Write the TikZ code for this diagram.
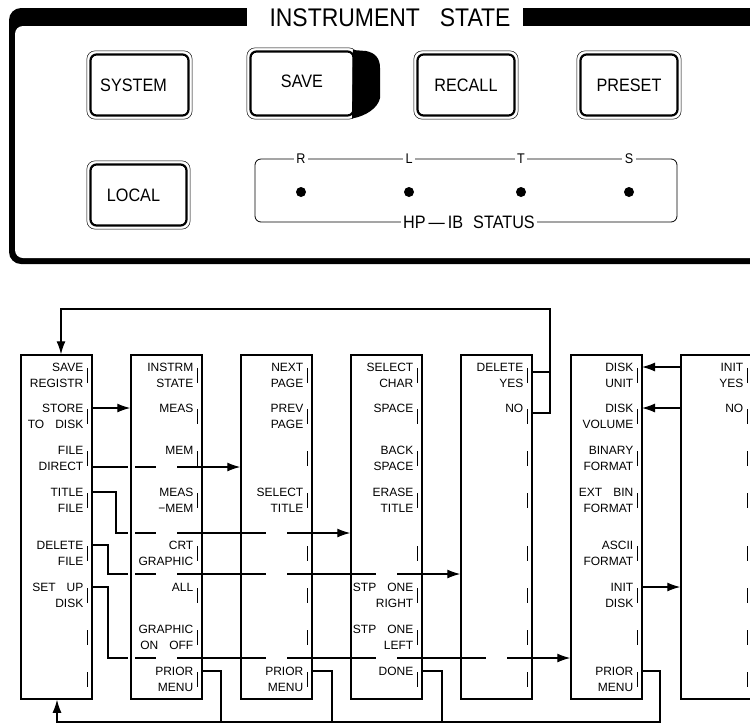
\documentclass[tikz,border=0pt]{standalone}
\usepackage{fontspec}
\setmainfont{Liberation Sans}
\newfontfamily\panelfont[FakeStretch=0.9]{Liberation Sans}
\usetikzlibrary{calc}
\usetikzlibrary{arrows.meta}
\pgfdeclarelayer{background}
\pgfsetlayers{background,main}
\newcommand*{\colsp}{110}
\newcommand*{\wsp}{\hspace{11pt}}
\newcommand*{\keylabel}[3]{%
    \node[keytext] at ($(#1)+(-8.5,4)$) {#2};
    \node[keytext] at ($(#1)+(-8.5,20)$) {#3};}
\newcommand*{\keyone}[2]{%
    \node[keytext] at ($(#1)+(-8.5,4)$) {#2};}
\tikzset{
    menucol/.style={draw, line width=1.5pt, minimum width=71pt, minimum height=344pt, inner sep=0pt},
    keytext/.style={anchor=base east, inner sep=0pt, font=\fontsize{12}{14}\selectfont},
    keytick/.style={line width=0.8pt},
    link/.style={line width=1.2pt},
    arr/.style={-{Latex[length=13pt,width=9pt]}},
    hwkey/.style={draw, line width=2.2pt, rounded corners=6pt, inner sep=0pt},
    hwtext/.style={font=\panelfont\fontsize{18}{20}\selectfont},
    keyrim/.style={line width=0.5pt, rounded corners=8pt},
    busletter/.style={fill=white, inner sep=2.5pt, font=\panelfont\fontsize{14}{16}\selectfont},
}

\begin{document}
\begin{tikzpicture}[x=1pt,y=-1pt]
    \useasboundingbox (0,0) rectangle (750,724);
    \clip (0,0) rectangle (750,724);
    % instrument state panel
    \fill[rounded corners=12pt] (9,8) rectangle (790,264);
    \fill[white, rounded corners=8pt] (15,26) rectangle (784,258);
    \fill[white] (247,6) rectangle (523,27);
    \node[font=\panelfont\fontsize{25.5}{28}\selectfont] (title) at (390,17.5) {INSTRUMENT\hspace{20pt}STATE};

    \node[hwkey, minimum width=98pt, minimum height=61pt] (system) at (139.5,85) {};
    \node[hwkey, minimum width=103pt, minimum height=64pt] (save) at (302,83.5) {};
    \node[hwkey, minimum width=97pt, minimum height=61pt] (recall) at (466,85) {};
    \node[hwkey, minimum width=97pt, minimum height=61pt] (preset) at (629,85) {};
    \node[hwkey, minimum width=96pt, minimum height=61pt] (local) at (138.5,195) {};
    \foreach \b in {system,save,recall,preset,local}
        \draw[keyrim] ([shift={(-2.5,-2.5)}]\b.north west) rectangle ([shift={(2.5,2.5)}]\b.south east);
    \fill (353,50) -- (366,51) .. controls (376,53) and (380,59) .. (380,68) -- (380,98)
        .. controls (378,108) and (366,116) .. (352,118.5) -- cycle;
    \node[hwtext] at ([xshift=-6pt]system.center) {SYSTEM};
    \node[hwtext] at ([yshift=2pt]save.center) {SAVE};
    \node[hwtext] at (recall.center) {RECALL};
    \node[hwtext] at (preset.center) {PRESET};
    \node[hwtext] at ([xshift=-5pt]local.center) {LOCAL};

    \draw[line width=0.8pt, rounded corners=6pt] (255,159) rectangle (677,222);
    \foreach \n/\x in {R/301,L/409,T/521,S/629} {
        \node[busletter] (bus\n) at (\x,159) {\n};
        \fill (\x,192) circle (5pt);
    }
    \node[busletter, font=\panelfont\fontsize{18}{20}\selectfont] (hpib) at (469,222) {HP\,—\,IB\hspace{10pt}STATUS};

    % softkey menus
    \foreach \c in {1,...,7}
        \node[menucol] (col\c) at ({56.5+\colsp*(\c-1)},527) {};
    \foreach \c in {1,...,7}
        \foreach \k/\y in {1/367,2/408,3/450,4/492,5/545,6/587,7/629,8/671}
            \coordinate (k\c\k) at ({92+\colsp*(\c-1)},\y);
    \foreach \c in {1,...,7}
        \foreach \k in {1,...,8}
            \draw[keytick] ($(k\c\k)+(-5,1)$) -- ++(0,15);

    \keylabel{k11}{SAVE}{REGISTR}
    \keylabel{k12}{STORE}{TO\wsp DISK}
    \keylabel{k13}{FILE}{DIRECT}
    \keylabel{k14}{TITLE}{FILE}
    \keylabel{k15}{DELETE}{FILE}
    \keylabel{k16}{SET\wsp UP}{DISK}

    \keylabel{k21}{INSTRM}{STATE}
    \keyone{k22}{MEAS}
    \keyone{k23}{MEM}
    \keylabel{k24}{MEAS}{−MEM}
    \keylabel{k25}{CRT}{GRAPHIC}
    \keyone{k26}{ALL}
    \keylabel{k27}{GRAPHIC}{ON\wsp OFF}
    \keylabel{k28}{PRIOR}{MENU}

    \keylabel{k31}{NEXT}{PAGE}
    \keylabel{k32}{PREV}{PAGE}
    \keylabel{k34}{SELECT}{TITLE}
    \keylabel{k38}{PRIOR}{MENU}

    \keylabel{k41}{SELECT}{CHAR}
    \keyone{k42}{SPACE}
    \keylabel{k43}{BACK}{SPACE}
    \keylabel{k44}{ERASE}{TITLE}
    \keylabel{k46}{STP\wsp ONE}{RIGHT}
    \keylabel{k47}{STP\wsp ONE}{LEFT}
    \keyone{k48}{DONE}

    \keylabel{k51}{DELETE}{YES}
    \keyone{k52}{NO}

    \keylabel{k61}{DISK}{UNIT}
    \keylabel{k62}{DISK}{VOLUME}
    \keylabel{k63}{BINARY}{FORMAT}
    \keylabel{k64}{EXT\wsp BIN}{FORMAT}
    \keylabel{k65}{ASCII}{FORMAT}
    \keylabel{k66}{INIT}{DISK}
    \keylabel{k68}{PRIOR}{MENU}

    \keylabel{k71}{INIT}{YES}
    \keyone{k72}{NO}

    \coordinate (lp) at (550,309);
    \coordinate (lq) at (61,309);
    \coordinate (fd) at ($(k13)+(0,17)$);
    \coordinate (td) at (116,533);
    \coordinate (de) at (108,574);
    \coordinate (su) at (108,658);
    \coordinate (b2) at (221,722);
    \coordinate (b3) at (332,722);
    \coordinate (b4) at (442,722);
    \coordinate (b6) at (660,722);
    \coordinate (rt) at (57,722);
    \coordinate (y5) at ($(k51)+(0,5)$);
    \coordinate (n5) at ($(k52)+(0,5)$);

    \begin{pgfonlayer}{background}
        \draw[link, arr] (y5) -| (lp) -- (lq) -- (lq |- col1.north);
        \draw[link] (n5) -| (lp);
        \draw[link, arr] (k12) -- (k12 -| col2.west);
        \draw[link, arr] (k13 |- fd) -- (fd -| col3.west);
        \draw[link, arr] (k14) -| (td) -- (td -| col4.west);
        \draw[link, arr] (k15) -| (de) -- (de -| col5.west);
        \draw[link, arr] (k16) -| (su) -- (su -| col6.west);
        \draw[link] (k28) -| (b2);
        \draw[link] (k38) -| (b3);
        \draw[link] (k48) -| (b4);
        \draw[link, arr] (k68) -| (b6) -- (rt) -- (rt |- col1.south);
        \draw[link, arr] (k61 -| col7.west) -- (k61);
        \draw[link, arr] (k62 -| col7.west) -- (k62);
        \draw[link, arr] (k66) -- (k66 -| col7.west);
        % breaks where the lines run behind a menu
        \foreach \y/\n in {467/2,533/3,574/4,658/5} {
            \fill[white] (127.5,\y-3) rectangle (134.5,\y+3);
            \foreach \c in {2,...,\n}
                \fill[white] ({46+\colsp*(\c-1)},\y-3) rectangle ++(21,6);
        }
    \end{pgfonlayer}
\end{tikzpicture}
\end{document}
